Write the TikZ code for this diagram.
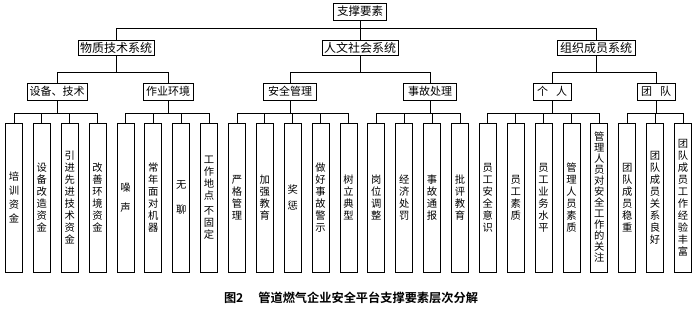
\documentclass[tikz,border=0pt]{standalone}
\usepackage{fontspec}
\setmainfont{Noto Sans CJK SC}
\newfontfamily\capfont{Noto Sans CJK SC Bold}
\usetikzlibrary{positioning}

\begin{document}
\begin{tikzpicture}[x=1pt, y=-1pt,
          box/.style={rectangle, draw, line width=0.8pt, inner sep=1pt,
                      minimum height=15pt, font=\fontsize{11}{13}\selectfont},
          sysbox/.style={box, inner sep=0.5pt, font=\fontsize{12}{13}\selectfont},
          leaf/.style={rectangle, draw, line width=0.8pt, inner sep=0pt,
                       minimum width=17pt, minimum height=149pt,
                       align=center, font=\fontsize{10.3}{12}\selectfont},
          conn/.style={line width=0.8pt}]
          \useasboundingbox (0,0) rectangle (700,312);
          % top and first level
          \node[box, minimum width=53pt, minimum height=17pt,
                font=\fontsize{11.5}{13}\selectfont] (top) at (360,11.5) {支撑要素};
          \node[sysbox, minimum width=76pt] (wz) at (116,47.5) {物质技术系统};
          \node[sysbox, minimum width=76pt] (rw) at (360,47.5) {人文社会系统};
          \node[sysbox, minimum width=78pt] (zz) at (596,47.5) {组织成员系统};
          % second level
          \node[box, minimum width=60pt, minimum height=17pt] (sb) at (57,91.5)  {设备、技术};
          \node[box, minimum width=50pt, minimum height=17pt] (zy) at (168,91.5) {作业环境};
          \node[box, minimum width=53pt, minimum height=17pt] (aq) at (290,91.5) {安全管理};
          \node[box, minimum width=53pt, minimum height=17pt] (sg) at (430,91.5) {事故处理};
          \node[box, minimum width=38pt, minimum height=17pt] (gr) at (552,91.5) {个\hspace{8pt}人};
          \node[box, minimum width=38pt, minimum height=17pt] (td) at (656,91.5) {团\hspace{8pt}队};
          % leaves
          \foreach \i/\txt in {
              1/{培\\[2pt]训\\[2pt]资\\[2pt]金},
              2/{设\\备\\改\\造\\资\\金},
              3/{引\\进\\先\\进\\技\\术\\资\\金},
              4/{改\\善\\环\\境\\资\\金},
              5/{噪\\[8pt]声},
              6/{常\\年\\面\\对\\机\\器},
              7/{无\\[13pt]聊},
              8/{工\\作\\地\\点\\[3pt]不\\固\\定},
              9/{严\\格\\管\\理},
              10/{加\\强\\教\\育},
              11/{奖\\[4pt]惩},
              12/{做\\好\\事\\故\\警\\示},
              13/{树\\立\\典\\型},
              14/{岗\\位\\调\\整},
              15/{经\\济\\处\\罚},
              16/{事\\故\\通\\报},
              17/{批\\评\\教\\育},
              18/{员\\工\\安\\全\\意\\识},
              19/{员\\工\\素\\质},
              20/{员\\工\\业\\务\\水\\平},
              21/{管\\理\\人\\员\\素\\质},
              22/{管\\[-1pt]理\\[-1pt]人\\[-1pt]员\\[-1pt]对\\[-1pt]安\\[-1pt]全\\[-1pt]工\\[-1pt]作\\[-1pt]的\\[-1pt]关\\[-1pt]注},
              23/{团\\队\\成\\员\\稳\\重},
              24/{团\\队\\成\\员\\关\\系\\良\\好},
              25/{团\\队\\成\\员\\工\\作\\经\\验\\丰\\富}}
            \node[leaf] (l\i) at ({14+27.875*(\i-1)},197.5) {\txt};
          % connectors
          \draw[conn] (top.south) -- ++(0,8) -| (wz.north);
          \draw[conn] (top.south) -- ++(0,8) -| (zz.north);
          \draw[conn] (top) -- (rw);
          \foreach \p/\c in {wz/sb, wz/zy, rw/aq, rw/sg, zz/gr, zz/td}
            \draw[conn] (\p.south) -- ++(0,17) -| (\c.north);
          \foreach \p/\a/\b in {sb/1/4, zy/5/8, aq/9/13, sg/14/17, gr/18/22, td/23/25}
            \foreach \i in {\a,...,\b}
              \draw[conn] (\p.south) -- ++(0,13) -| (l\i.north);
          % caption
          \node[font=\fontsize{12.2}{14}\capfont] (cap) at (351,298)
            {图2\hspace{15pt}管道燃气企业安全平台支撑要素层次分解};
        \end{tikzpicture}
\end{document}
